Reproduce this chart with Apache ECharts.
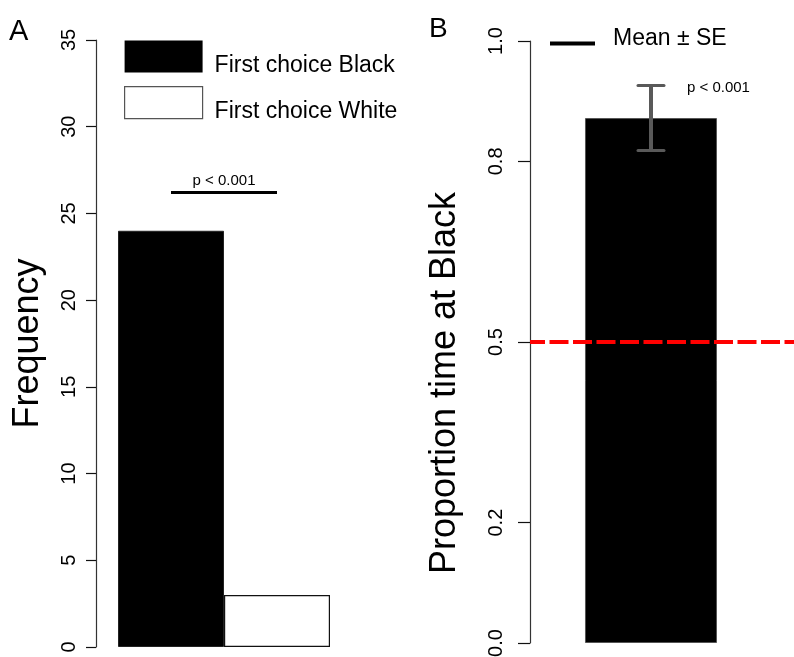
<!DOCTYPE html>
<html>
<head>
<meta charset="utf-8">
<script src="https://cdn.jsdelivr.net/npm/echarts@6/dist/echarts.min.js"></script>
<style>
html,body{margin:0;padding:0;background:#fff;}
#chart{width:794px;height:657px;}
</style>
</head>
<body>
<div id="chart"></div>
<script>
// ---- Data ----
const choiceCategories = ['First choice Black', 'First choice White'];
const choiceCounts = [24, 3];
const freqMin = 0, freqMax = 35, freqStep = 5;
const bracketLevel = 26.2;
const pText = 'p < 0.001';

const propCategory = ['Black'];
const propMean = [0.872];
const propSE = [0.054];
const propTicks = [0, 0.2, 0.5, 0.8, 1.0];
const chanceLevel = 0.5;

const FONT = '"Liberation Sans", Arial, Helvetica, sans-serif';

const chart = echarts.init(document.getElementById('chart'), null, {renderer: 'canvas'});

const seriesA = choiceCategories.map((name, i) => ({
  type: 'bar',
  name: name,
  xAxisIndex: 0,
  yAxisIndex: 0,
  stack: 'freq',
  barCategoryGap: '0%',
  barWidth: '100%',
  data: choiceCounts.map((v, j) => (j === i ? v : '-')),
  itemStyle: i === 0
    ? {color: '#000', borderColor: '#222', borderWidth: 1}
    : {color: '#fff', borderColor: '#111', borderWidth: 1.2},
  silent: true
}));
// significance bracket between the two bars
seriesA[0].markLine = {
  silent: true,
  symbol: 'none',
  animation: false,
  lineStyle: {color: '#000', width: 3, type: 'solid'},
  label: {show: true, position: 'middle', formatter: pText, fontSize: 15, fontFamily: FONT, color: '#000', distance: 4},
  data: [[{coord: [0, bracketLevel]}, {coord: [1, bracketLevel]}]]
};

const option = {
  animation: false,
  backgroundColor: '#fff',
  textStyle: {fontFamily: FONT},
  grid: [
    {left: 118, top: 40, width: 212, height: 607, outerBoundsMode: 'none', containLabel: false},
    {left: 530, top: 41, right: 0, height: 602, outerBoundsMode: 'none', containLabel: false}
  ],
  xAxis: [
    {type: 'category', gridIndex: 0, data: choiceCategories,
     axisLine: {show: false}, axisTick: {show: false}, axisLabel: {show: false}, splitLine: {show: false}},
    {type: 'value', gridIndex: 1, min: -0.5, max: 0.591,
     axisLine: {show: false, onZero: false}, axisTick: {show: false}, axisLabel: {show: false}, splitLine: {show: false}}
  ],
  yAxis: [
    {type: 'value', gridIndex: 0, min: freqMin, max: freqMax, interval: freqStep, offset: 22,
     axisLine: {show: true, onZero: false, lineStyle: {color: '#333', width: 1.2}},
     axisTick: {show: true, length: 10, lineStyle: {color: '#111', width: 1.2}},
     axisLabel: {rotate: 90, fontSize: 20, margin: 17, color: '#000', fontFamily: FONT},
     splitLine: {show: false},
     name: 'Frequency', nameLocation: 'middle', nameRotate: 90, nameGap: 50,
     nameTextStyle: {fontSize: 36, color: '#000', fontFamily: FONT}},
    {type: 'value', gridIndex: 1, min: 0, max: 1,
     axisLine: {show: true, onZero: false, lineStyle: {color: '#333', width: 1.2}},
     axisTick: {show: true, length: 12, customValues: propTicks, lineStyle: {color: '#111', width: 1.2}},
     axisLabel: {rotate: 90, fontSize: 20, margin: 24, color: '#000', fontFamily: FONT,
                 customValues: propTicks, formatter: v => Number(v).toFixed(1)},
     splitLine: {show: false},
     name: 'Proportion time at Black', nameLocation: 'middle', nameRotate: 90, nameGap: 67,
     nameTextStyle: {fontSize: 36, color: '#000', fontFamily: FONT, padding: [0, 82, 0, 0]}}
  ],
  legend: [
    {
      data: [
        {name: choiceCategories[0], itemStyle: {color: '#000', borderColor: '#000', borderWidth: 0}},
        {name: choiceCategories[1], itemStyle: {color: '#fff', borderColor: '#555', borderWidth: 1.2}}
      ],
      orient: 'vertical', left: 124, top: 40.5, padding: 0,
      itemWidth: 78, itemHeight: 32, itemGap: 9, icon: 'rect',
      selectedMode: false,
      formatter: name => '{t|' + name + '}',
      textStyle: {color: '#000', fontFamily: FONT,
                  rich: {t: {fontSize: 23, color: '#000', fontFamily: FONT, padding: [18, 0, 0, 7]}}}
    },
    {
      data: [{name: 'Mean ± SE', itemStyle: {color: '#000', borderWidth: 0}}],
      left: 550, top: 27, padding: 0,
      itemWidth: 45, itemHeight: 4, icon: 'rect',
      selectedMode: false,
      formatter: name => '{t|' + name + '}',
      textStyle: {color: '#000', fontFamily: FONT,
                  rich: {t: {fontSize: 23, color: '#000', fontFamily: FONT, padding: [0, 0, 10, 13]}}}
    }
  ],
  graphic: [
    {type: 'text', left: 9, top: 17, style: {text: 'A', fontSize: 29, fontFamily: FONT, fill: '#000'}},
    {type: 'text', left: 429, top: 15, style: {text: 'B', fontSize: 28, fontFamily: FONT, fill: '#000'}}
  ],
  series: seriesA.concat([
    {
      type: 'bar',
      name: 'Proportion',
      xAxisIndex: 1, yAxisIndex: 1,
      barWidth: 132,
      data: propMean.map((m, i) => [i, m]),
      itemStyle: {color: '#000', borderColor: '#555', borderWidth: 1},
      silent: true,
      markLine: {
        silent: true,
        symbol: 'none',
        animation: false,
        label: {show: false},
        lineStyle: {color: '#ff0000', width: 4, type: [19, 4.5], dashOffset: 4},
        data: [{yAxis: chanceLevel}]
      }
    },
    {
      type: 'custom',
      name: 'Mean ± SE',
      xAxisIndex: 1, yAxisIndex: 1,
      z: 5,
      silent: true,
      data: propMean.map((m, i) => [i, m - propSE[i], m + propSE[i]]),
      renderItem: function (params, api) {
        const x = api.value(0);
        const lo = api.coord([x, api.value(1)]);
        const hi = api.coord([x, api.value(2)]);
        const hw = 13;
        const stroke = '#595959';
        return {
          type: 'group',
          children: [
            {type: 'line', shape: {x1: lo[0], y1: lo[1], x2: hi[0], y2: hi[1]}, style: {stroke: stroke, lineWidth: 4}},
            {type: 'line', shape: {x1: hi[0] - hw, y1: hi[1], x2: hi[0] + hw, y2: hi[1]}, style: {stroke: stroke, lineWidth: 3, lineCap: 'round'}},
            {type: 'line', shape: {x1: lo[0] - hw, y1: lo[1], x2: lo[0] + hw, y2: lo[1]}, style: {stroke: stroke, lineWidth: 3, lineCap: 'round'}},
            {type: 'text', x: hi[0] + 36, y: hi[1] + 2,
             style: {text: pText, fontSize: 15, fontFamily: FONT, fill: '#000', verticalAlign: 'middle', align: 'left'}}
          ]
        };
      }
    }
  ])
};

chart.setOption(option);
</script>
</body>
</html>
